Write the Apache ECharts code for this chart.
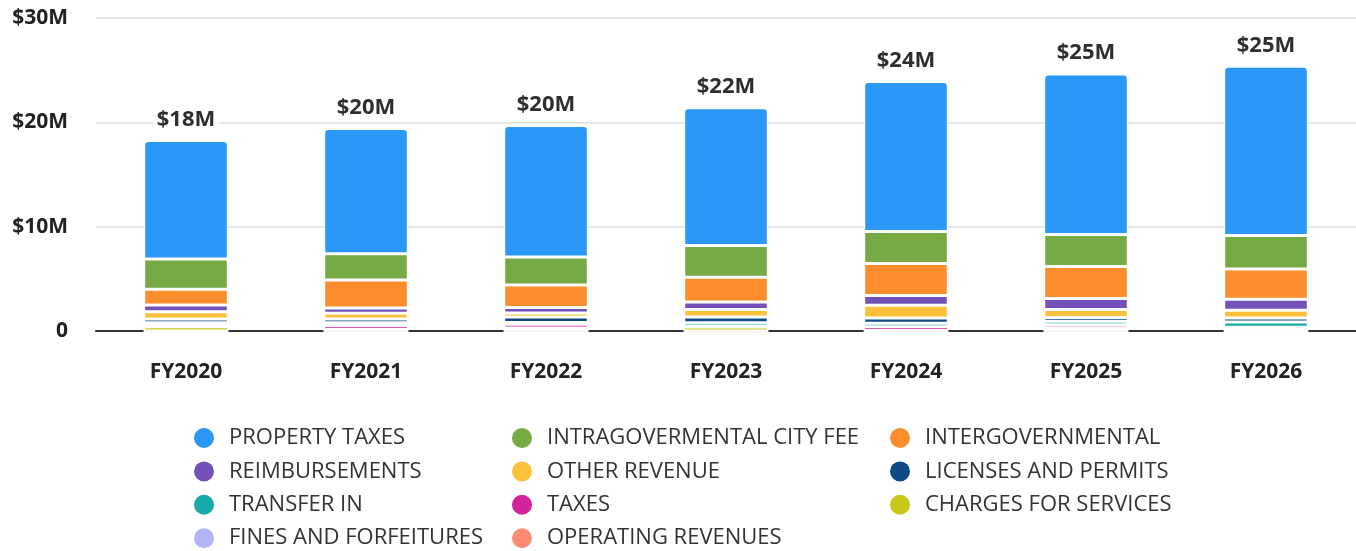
<!DOCTYPE html>
<html>
<head>
<meta charset="utf-8">
<script src="https://cdn.jsdelivr.net/npm/echarts@6/dist/echarts.min.js"></script>
<style>
  html, body { margin: 0; padding: 0; background: #fff; }
  #chart { width: 1356px; height: 551px; }
</style>
</head>
<body>
<div id="chart"></div>
<script>
// Revenue by source, stacked per fiscal year (values in $M)
const years = ['FY2020', 'FY2021', 'FY2022', 'FY2023', 'FY2024', 'FY2025', 'FY2026']
const yTicks = [0, 10, 20, 30]
const totalLabels = ['$18M', '$20M', '$20M', '$22M', '$24M', '$25M', '$25M']

const propertyTaxes = [11.35, 12.0, 12.6, 13.2, 14.38, 15.4, 16.22]
const intragovCityFee = [2.9, 2.5, 2.68, 3.05, 3.05, 3.06, 3.21]
const intergovernmental = [1.5, 2.7, 2.16, 2.37, 3.07, 3.07, 2.89]
const reimbursements = [0.65, 0.5, 0.53, 0.7, 0.93, 1.06, 1.06]
const otherRevenue = [0.7, 0.55, 0.38, 0.72, 1.23, 0.76, 0.74]
const licensesPermits = [0.35, 0.35, 0.53, 0.55, 0.5, 0.35, 0.38]
const transferIn = [0.3, 0.3, 0.17, 0.35, 0.35, 0.35, 0.5]
const taxes = [0.1, 0.35, 0.35, 0.07, 0.35, 0.3, 0.3]
const chargesForServices = [0.4, 0.15, 0.29, 0.38, 0.05, 0.29, 0.07]
const finesForfeitures = [0, 0, 0, 0, 0, 0, 0]
const operatingRevenues = [0, 0, 0, 0, 0, 0, 0]

// bottom of stack first
const stackSeries = [
    { name: 'OPERATING REVENUES', data: operatingRevenues, color: '#fc8c72' },
    { name: 'FINES AND FORFEITURES', data: finesForfeitures, color: '#b3b3fa' },
    { name: 'CHARGES FOR SERVICES', data: chargesForServices, color: '#c8c81c' },
    { name: 'TAXES', data: taxes, color: '#d4239a' },
    { name: 'TRANSFER IN', data: transferIn, color: '#16a9a9' },
    { name: 'LICENSES AND PERMITS', data: licensesPermits, color: '#0e4a86' },
    { name: 'OTHER REVENUE', data: otherRevenue, color: '#fdc03d' },
    { name: 'REIMBURSEMENTS', data: reimbursements, color: '#7451b8' },
    { name: 'INTERGOVERNMENTAL', data: intergovernmental, color: '#fb8d2c' },
    { name: 'INTRAGOVERMENTAL CITY FEE', data: intragovCityFee, color: '#77a944' },
    { name: 'PROPERTY TAXES', data: propertyTaxes, color: '#2b98f7' },
]

const legendCols = [
    ['PROPERTY TAXES', 'REIMBURSEMENTS', 'TRANSFER IN', 'FINES AND FORFEITURES'],
    ['INTRAGOVERMENTAL CITY FEE', 'OTHER REVENUE', 'TAXES', 'OPERATING REVENUES'],
    ['INTERGOVERNMENTAL', 'LICENSES AND PERMITS', 'CHARGES FOR SERVICES'],
]
const legendLeft = [192, 510, 888]
const legendTop = 426
const legendRowStep = 33.4

const chart = echarts.init(document.getElementById('chart'))

const series = stackSeries.map((s, i) => {
    const isTop = i === stackSeries.length - 1
    return {
        name: s.name,
        type: 'bar',
        stack: 'total',
        barWidth: '47%',
        data: s.data,
        itemStyle: {
            color: s.color,
            borderColor: '#fff',
            borderWidth: 1.5,
            borderRadius: isTop ? [4, 4, 0, 0] : 0,
        },
        label: isTop ? {
            show: true,
            position: 'top',
            distance: 9,
            formatter: (p) => totalLabels[p.dataIndex],
            fontFamily: 'Open Sans',
            fontWeight: 'bold',
            fontSize: 22,
            color: '#2e2e2e',
            backgroundColor: '#fff',
            padding: [1, 4],
        } : { show: false },
        emphasis: { disabled: true },
    }
})

// one legend per item so the three columns line up like the original
const legends = []
legendCols.forEach((col, c) => {
    col.forEach((name, r) => {
        legends.push({
            data: [name],
            left: legendLeft[c],
            top: legendTop + r * legendRowStep,
            padding: 0,
            icon: 'circle',
            itemWidth: 22,
            itemHeight: 22,
            selectedMode: false,
            textStyle: {
                fontFamily: 'Open Sans',
                fontSize: 22,
                lineHeight: 22,
                color: '#333',
                padding: [0, 0, 0, 9],
            },
        })
    })
})

const option = {
    backgroundColor: '#fff',
    animation: false,
    grid: { left: 96, right: 0, top: 18, bottom: 220 },
    legend: legends,
    xAxis: {
        type: 'category',
        data: years,
        axisTick: { show: false },
        axisLine: { lineStyle: { color: '#333', width: 2 } },
        axisLabel: {
            margin: 31,
            fontFamily: 'Open Sans',
            fontWeight: 'bold',
            fontSize: 21,
            color: '#222',
        },
    },
    yAxis: {
        type: 'value',
        min: yTicks[0],
        max: yTicks[yTicks.length - 1],
        interval: yTicks[1] - yTicks[0],
        axisLine: { show: false },
        axisTick: { show: false },
        splitLine: { lineStyle: { color: '#e6e6e6', width: 2 } },
        axisLabel: {
            margin: 28,
            formatter: (v) => (v === 0 ? '0' : '$' + v + 'M'),
            fontFamily: 'Open Sans',
            fontWeight: 'bold',
            fontSize: 21,
            color: '#222',
        },
    },
    series: series,
}

chart.setOption(option)
window.addEventListener('resize', () => chart.resize())
</script>
</body>
</html>
